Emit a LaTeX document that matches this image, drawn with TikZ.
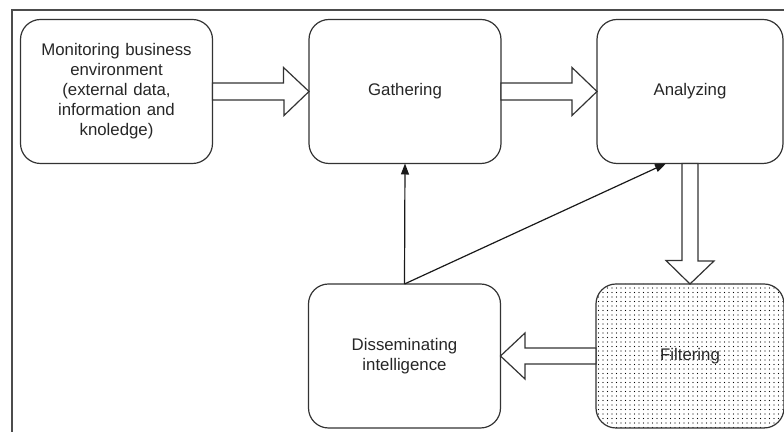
\documentclass[tikz,border=0pt]{standalone}
\usepackage{fontspec}
\setmainfont{Liberation Sans}
\usetikzlibrary{arrows.meta,patterns.meta,calc}

\begin{document}
\begin{tikzpicture}[x=0.5pt,y=-0.5pt,
  every node/.style={outer sep=0pt, font=\fontsize{8.4}{10}\selectfont, text=black!85},
  stage/.style={draw=black!80, line width=0.6pt, rounded corners=10pt, minimum width=96pt, minimum height=72pt, align=center},
  bigarrow/.style={draw=black!80, line width=0.6pt, fill=white},
  link/.style={draw=black!90, line width=0.6pt, -{Triangle[length=5.5pt,width=4pt]}}]

\useasboundingbox (0,0) rectangle (784,432);
\clip (0,0) rectangle (784,432);
\draw[black!70, line width=0.7pt] (12,440) -- (12,10) -- (800,10);

\node[stage, text width=80pt] (mon) at (116.5,91.5) {Monitoring business\\environment\\(external data,\\information and\\knoledge)};
\node[stage] (gath) at (405,91.5) {Gathering};
\node[stage, minimum width=93pt] (anal) at (690,91.5) {Analyzing};
\node[stage] (diss) at (404.5,356) {Disseminating\\intelligence};
\node[stage, minimum width=94pt, pattern={Dots[distance=2.25pt,radius=0.35pt]}] (filt) at (690,356) {Filtering};

\draw[bigarrow] ($(mon.east)+(0,-8.5)$) -- ++(71,0) -- ++(0,-15.5) -- (gath.west) -- ++(-25,24) -- ++(0,-15.5) -- ($(mon.east)+(0,8.5)$) -- cycle;
\draw[bigarrow] ($(gath.east)+(0,-8.5)$) -- ++(71,0) -- ++(0,-15.5) -- (anal.west) -- ++(-25,24) -- ++(0,-15.5) -- ($(gath.east)+(0,8.5)$) -- cycle;
\draw[bigarrow] ($(anal.south)+(-8,0)$) -- ++(0,97) -- ++(-16,0) -- (filt.north) -- ++(24,-23) -- ++(-16,0) -- ($(anal.south)+(8,0)$) -- cycle;
\draw[bigarrow] ($(filt.west)+(0,-8)$) -- ++(-71,0) -- ++(0,-15) -- (diss.east) -- ++(24.5,23) -- ++(0,-15) -- ($(filt.west)+(0,8)$) -- cycle;

\draw[link] (diss.north) -- (gath.south);
\draw[link] (diss.north) -- ($(anal.south)+(-24,0)$);
\end{tikzpicture}
\end{document}
